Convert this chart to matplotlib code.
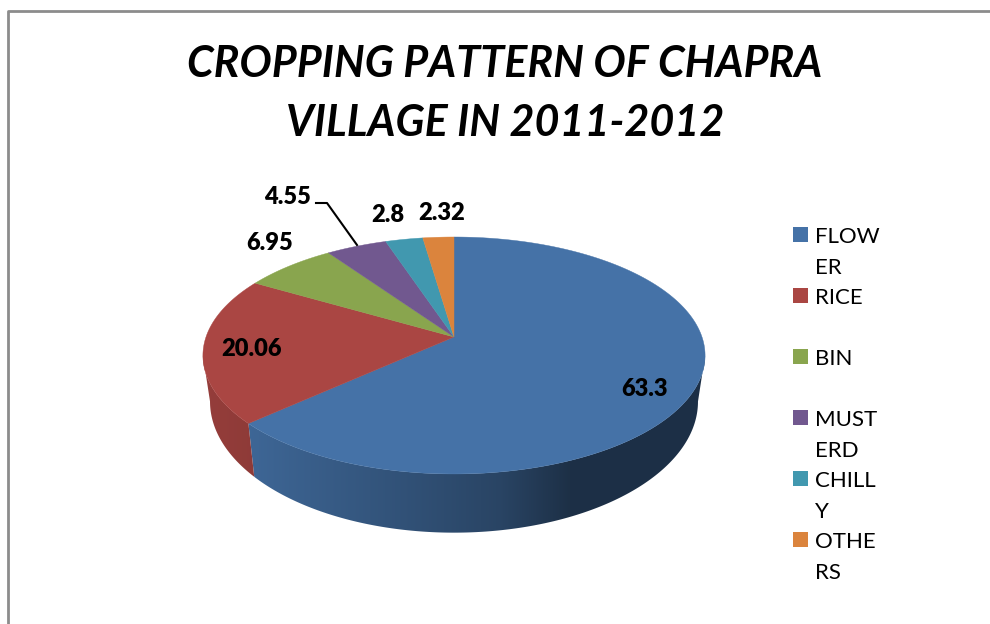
from matplotlib import pyplot as plt
from matplotlib.colors import to_rgb
from matplotlib.patches import Polygon
import numpy as np

plt.rcParams['font.family'] = ['Lato', 'DejaVu Sans']

title = "CROPPING PATTERN OF CHAPRA\nVILLAGE IN 2011-2012"
crops = ["FLOW\nER", "RICE", "BIN", "MUST\nERD", "CHILL\nY", "OTHE\nRS"]
shares = [63.3, 20.06, 6.95, 4.55, 2.8, 2.32]
share_labels = ["63.3", "20.06", "6.95", "4.55", "2.8", "2.32"]
colors = ["#4572a7", "#aa4643", "#89a54e", "#71588f", "#4198af", "#db843d"]

# pixel positions of things, axes is set up in image coordinates
label_pos = [(644, 396), (252, 356), (270, 250), (287, 204), (388, 222), (442, 220)]
legend_y = [227, 288, 349, 410, 471, 532]

CX = 454
K = 0.156


def rim(angle, a, b, cy):
    # circle seen in perspective, angle runs clockwise from the top
    u = np.sin(angle)
    v = np.cos(angle)
    w = 1 + K * v
    return CX + a * u / w, cy - b * v / w


def top_rim(angle):
    return rim(angle, 248, 115.6, 337)


def bottom_rim(angle):
    return rim(angle, 241, 128, 381)


def side_shade(i, x):
    # the front wall gets darker going right
    if i == 0:
        return np.interp(x, [247, 500, 570, 710], [0.90, 0.60, 0.42, 0.42])
    return np.interp(x, [200, 250], [0.88, 0.84])


fig = plt.figure(figsize=(9.9, 6.24), dpi=100)
ax = fig.add_axes([0, 0, 1, 1])
ax.axis("off")

ax.plot([8, 8, 990], [624, 11, 11], color="#8c8c8c", lw=2, solid_capstyle="butt")

edges = np.cumsum([0] + shares) / np.sum(shares) * 2 * np.pi

# only the part of the wall between the two outermost points shows
visible_from = np.arccos(-K)
visible_to = 2 * np.pi - visible_from
gradient_x = np.arange(190, 720)
for i in range(len(shares)):
    start = max(edges[i], visible_from)
    end = min(edges[i + 1], visible_to)
    if end <= start:
        continue
    angles = np.linspace(start, end, 200)
    x0, y0 = top_rim(angles)
    x1, y1 = bottom_rim(angles)
    outline = np.c_[np.r_[x0, x1[::-1]], np.r_[y0, y1[::-1]]]
    gradient = np.outer(side_shade(i, gradient_x), to_rgb(colors[i]))[np.newaxis, :, :]
    img = ax.imshow(gradient, extent=(190, 720, 560, 230), aspect="auto", interpolation="bilinear")
    img.set_clip_path(Polygon(outline, transform=ax.transData))

for i in range(len(shares)):
    angles = np.linspace(edges[i], edges[i + 1], 200)
    x, y = top_rim(angles)
    ax.fill(np.r_[CX, x], np.r_[337, y], color=colors[i], lw=0.3)

ax.plot([316, 327, 357], [203, 203, 245], color="black", lw=1.5)

for text, (x, y) in zip(share_labels, label_pos):
    ax.text(x, y, text, fontsize=17, fontweight="heavy", ha="center", va="baseline", color="black")

lines = title.split("\n")
ax.text(505, 77, lines[0], fontsize=31, fontweight="bold", fontstyle="italic", ha="center", va="baseline")
ax.text(505, 136, lines[1], fontsize=31, fontweight="bold", fontstyle="italic", ha="center", va="baseline")

for name, c, y in zip(crops, colors, legend_y):
    ax.fill([793, 808, 808, 793], [y, y, y + 15, y + 15], color=c, lw=0)
    for j, part in enumerate(name.split("\n")):
        ax.text(815, y + 16 + j * 31, part, fontsize=16, ha="left", va="baseline", color="black")

ax.set_xlim(0, 990)
ax.set_ylim(624, 0)

plt.savefig("out.png", dpi=100)
